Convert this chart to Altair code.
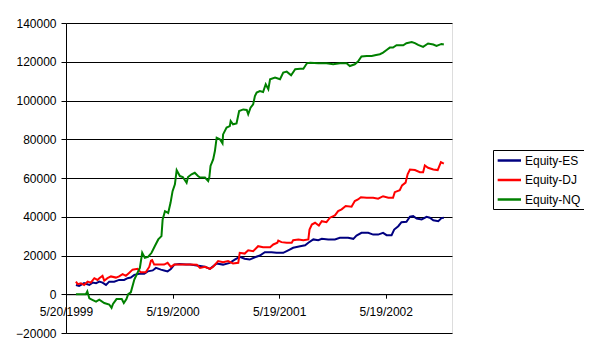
import altair as alt
import pandas as pd

# ---- data ----
series_names = ["Equity-ES", "Equity-DJ", "Equity-NQ"]
series_colors = ["#000080", "#FF0000", "#008000"]

es_dates = ["1999-06-23", "1999-07-04", "1999-07-21", "1999-08-08", "1999-08-19", "1999-08-31",
            "1999-09-11", "1999-09-22", "1999-10-04", "1999-10-15", "1999-11-01", "1999-11-18",
            "1999-12-05", "1999-12-17", "1999-12-28", "2000-01-09", "2000-01-26", "2000-02-12",
            "2000-02-24", "2000-03-12", "2000-03-23", "2000-04-09", "2000-04-20", "2000-05-02",
            "2000-05-13", "2000-05-25", "2000-06-11", "2000-07-04", "2000-07-18", "2000-08-10",
            "2000-09-07", "2000-09-24", "2000-10-17", "2000-11-08", "2000-12-01", "2000-12-18",
            "2001-01-04", "2001-01-21", "2001-02-07", "2001-02-25", "2001-03-14", "2001-03-31",
            "2001-04-23", "2001-05-10", "2001-06-02", "2001-06-19", "2001-07-06", "2001-07-30",
            "2001-08-16", "2001-08-27", "2001-09-13", "2001-09-30", "2001-10-12", "2001-11-03",
            "2001-11-26", "2001-12-13", "2002-01-10", "2002-01-28", "2002-02-08", "2002-02-25",
            "2002-03-20", "2002-04-06", "2002-04-23", "2002-05-10", "2002-05-22", "2002-06-08",
            "2002-06-17", "2002-07-01", "2002-07-12", "2002-07-29", "2002-08-10", "2002-08-21",
            "2002-09-02", "2002-09-19", "2002-10-06", "2002-10-17", "2002-10-29", "2002-11-15",
            "2002-11-26", "2002-12-04"]
es_values = [4800, 4300, 5700, 4800, 6000, 5700,
             6500, 6000, 4800, 6500, 6500, 7400,
             7400, 8300, 8600, 10000, 10600, 10600,
             11800, 12300, 13600, 12700, 12300, 11800,
             13000, 15300, 15600, 15300, 15300, 14800,
             14200, 13100, 15900, 15300, 16200, 17900,
             19300, 18300, 17900, 19100, 20000, 21700,
             21700, 21400, 21400, 22700, 24000, 24800,
             25300, 26600, 28300, 27900, 28600, 28300,
             28300, 29100, 29100, 28600, 30300, 31700,
             31700, 30800, 30800, 31700, 30500, 30500,
             33400, 35100, 37200, 37400, 40000, 40300,
             39100, 38600, 40000, 39500, 38200, 37700,
             39300, 39500]

dj_dates = ["1999-06-23", "1999-06-29", "1999-07-10", "1999-07-21", "1999-08-02", "1999-08-13",
            "1999-08-25", "1999-09-05", "1999-09-11", "1999-09-22", "1999-09-28", "1999-10-09",
            "1999-10-21", "1999-11-07", "1999-11-18", "1999-11-30", "1999-12-11", "1999-12-22",
            "2000-01-03", "2000-01-20", "2000-01-31", "2000-02-17", "2000-02-29", "2000-03-06",
            "2000-03-10", "2000-03-17", "2000-04-03", "2000-04-20", "2000-05-02", "2000-05-13",
            "2000-05-25", "2000-06-16", "2000-07-18", "2000-08-10", "2000-08-21", "2000-09-07",
            "2000-09-24", "2000-10-05", "2000-10-22", "2000-11-08", "2000-11-25", "2000-12-12",
            "2000-12-30", "2001-01-04", "2001-01-21", "2001-02-02", "2001-02-19", "2001-03-08",
            "2001-03-25", "2001-04-18", "2001-04-29", "2001-05-13", "2001-05-16", "2001-05-27",
            "2001-06-14", "2001-07-01", "2001-07-06", "2001-07-24", "2001-08-10", "2001-08-27",
            "2001-08-31", "2001-09-08", "2001-09-19", "2001-10-02", "2001-10-12", "2001-10-28",
            "2001-11-09", "2001-11-26", "2001-12-07", "2001-12-19", "2002-01-02", "2002-01-22",
            "2002-02-02", "2002-02-13", "2002-02-23", "2002-03-15", "2002-04-06", "2002-04-23",
            "2002-05-10", "2002-05-28", "2002-06-13", "2002-06-19", "2002-07-06", "2002-07-14",
            "2002-07-26", "2002-08-02", "2002-08-10", "2002-08-27", "2002-09-13", "2002-09-24",
            "2002-09-30", "2002-10-11", "2002-10-29", "2002-11-13", "2002-11-24", "2002-12-04"]
dj_values = [6500, 5200, 5700, 4800, 6500, 6000,
             8300, 7400, 8300, 9500, 7000, 8300,
             9200, 8600, 9200, 10400, 9500, 11000,
             12700, 13100, 11300, 11300, 14100, 17300,
             17600, 15300, 15300, 15300, 16200, 14100,
             15300, 15300, 15300, 15200, 13600, 14200,
             13100, 14200, 17100, 16500, 17100, 15900,
             16200, 21400, 21000, 22700, 22200, 24800,
             24300, 24300, 25700, 26600, 27700, 26900,
             26600, 26600, 27900, 28300, 27900, 28300,
             33400, 36000, 36900, 35500, 37700, 37200,
             39500, 40700, 42900, 43800, 45500, 45200,
             48100, 48900, 50100, 49800, 49800, 49300,
             50600, 49800, 49800, 52700, 53700, 56200,
             57600, 61900, 64400, 64100, 63000, 63000,
             66500, 65300, 64400, 64100, 68200, 67400]

nq_dates = ["1999-06-23", "1999-07-27", "1999-08-01", "1999-08-08", "1999-08-20", "1999-08-31",
            "1999-09-11", "1999-09-28", "1999-10-15", "1999-10-23", "1999-10-28", "1999-11-09",
            "1999-11-27", "1999-12-04", "1999-12-13", "1999-12-19", "1999-12-28", "2000-01-09",
            "2000-01-17", "2000-01-28", "2000-02-05", "2000-02-14", "2000-02-25", "2000-03-08",
            "2000-03-19", "2000-03-31", "2000-04-11", "2000-04-15", "2000-04-23", "2000-05-04",
            "2000-05-12", "2000-05-19", "2000-05-27", "2000-06-02", "2000-06-13", "2000-06-23",
            "2000-07-06", "2000-07-11", "2000-07-23", "2000-08-03", "2000-08-14", "2000-08-21",
            "2000-09-07", "2000-09-18", "2000-09-22", "2000-09-26", "2000-10-05", "2000-10-11",
            "2000-10-17", "2000-10-28", "2000-11-06", "2000-11-08", "2000-11-20", "2000-12-01",
            "2000-12-04", "2000-12-12", "2000-12-24", "2001-01-02", "2001-01-16", "2001-01-28",
            "2001-02-02", "2001-02-10", "2001-02-19", "2001-02-25", "2001-03-03", "2001-03-14",
            "2001-03-25", "2001-04-03", "2001-04-12", "2001-04-18", "2001-05-05", "2001-05-22",
            "2001-06-02", "2001-06-14", "2001-06-29", "2001-07-13", "2001-07-30", "2001-08-10",
            "2001-08-22", "2001-09-02", "2001-09-30", "2001-10-28", "2001-11-20", "2001-12-13",
            "2002-01-05", "2002-01-16", "2002-02-02", "2002-02-13", "2002-02-25", "2002-03-15",
            "2002-04-01", "2002-04-12", "2002-04-29", "2002-05-10", "2002-05-22", "2002-06-02",
            "2002-06-13", "2002-06-25", "2002-07-18", "2002-07-29", "2002-08-16", "2002-08-27",
            "2002-09-07", "2002-09-24", "2002-10-11", "2002-10-29", "2002-11-09", "2002-11-26",
            "2002-12-04"]
nq_values = [0, 0, 1500, -2100, -3000, -3800,
             -2800, -4500, -5300, -7000, -5000, -2500,
             -2500, -4500, -2500, 0, 1000, 7600,
             10200, 13600, 21400, 18800, 19300, 21400,
             24800, 28300, 30000, 38600, 42900, 42000,
             47200, 53200, 56700, 64000, 61000, 60500,
             57500, 60500, 61900, 62700, 61000, 60200,
             60200, 58400, 60500, 66200, 69600, 73900,
             80800, 80000, 77900, 82500, 86000, 86800,
             89400, 87700, 88200, 94600, 95400, 95100,
             92900, 96300, 98000, 102300, 104100, 104900,
             104400, 108400, 105800, 111000, 111800, 111000,
             114400, 114900, 113000, 116100, 116400, 116400,
             119200, 119500, 119200, 119200, 118700, 119200,
             119200, 117800, 118700, 120100, 122700, 123000,
             123000, 123400, 123900, 124700, 126100, 127300,
             127300, 128500, 128500, 129600, 130200, 129600,
             128700, 127700, 129400, 128900, 128200, 129200,
             128900]

y_ticks = [-20000, 0, 20000, 40000, 60000, 80000, 100000, 120000, 140000]
x_tick_dates = [(1999, 5, 20), (2000, 5, 19), (2001, 5, 19), (2002, 5, 19)]
x_domain = [(1999, 5, 20), (2003, 1, 1)]

frames = []
for name, d, v in [(series_names[0], es_dates, es_values),
                   (series_names[1], dj_dates, dj_values),
                   (series_names[2], nq_dates, nq_values)]:
    frames.append(pd.DataFrame({"date": d, "value": v, "series": name}))
df = pd.concat(frames, ignore_index=True)


def dt(t):
    return alt.DateTime(year=t[0], month=t[1], date=t[2], utc=True)


FONT = "Liberation Sans"

chart = alt.Chart(df).mark_line(strokeWidth=2).encode(
    x=alt.X("date:T",
            scale=alt.Scale(type="utc", domain=[dt(x_domain[0]), dt(x_domain[1])], nice=False),
            axis=alt.Axis(values=[dt(t) for t in x_tick_dates], format="%-m/%-d/%Y",
                          offset=-38.8, grid=False, title=None, tickSize=4,
                          tickColor="black", domainColor="black", labelPadding=8,
                          labelFlush=False, labelOverlap=False,
                          labelFont=FONT, labelFontSize=12, labelColor="black")),
    y=alt.Y("value:Q",
            scale=alt.Scale(domain=[-20000, 140000], nice=False, zero=False),
            axis=alt.Axis(values=y_ticks, format="d", title=None, tickSize=5,
                          tickColor="black", domainColor="black", gridColor="black",
                          gridOpacity=1, labelPadding=5, labelFont=FONT, labelFontSize=12,
                          labelColor="black", labelFlush=False)),
    color=alt.Color("series:N",
                    scale=alt.Scale(domain=series_names, range=series_colors),
                    sort=series_names,
                    legend=alt.Legend(title=None, orient="none", legendX=427, legendY=127,
                                      symbolType="M-1,0H3", symbolSize=136,
                                      symbolStrokeWidth=2.5, strokeColor="black",
                                      padding=3, rowPadding=5.5, labelFont=FONT,
                                      labelFontSize=12, labelColor="black",
                                      labelOffset=14, fillColor="white")),
    order=alt.Order("series:N"),
).properties(
    width=386, height=310,
    autosize=alt.AutoSizeParams(type="none"),
    padding={"left": 58, "top": 15, "right": 132, "bottom": 15},
).configure_view(
    stroke="black", strokeWidth=1
).configure(background="white")

chart.save("out.html", embed_options={"renderer": "svg", "actions": False})
